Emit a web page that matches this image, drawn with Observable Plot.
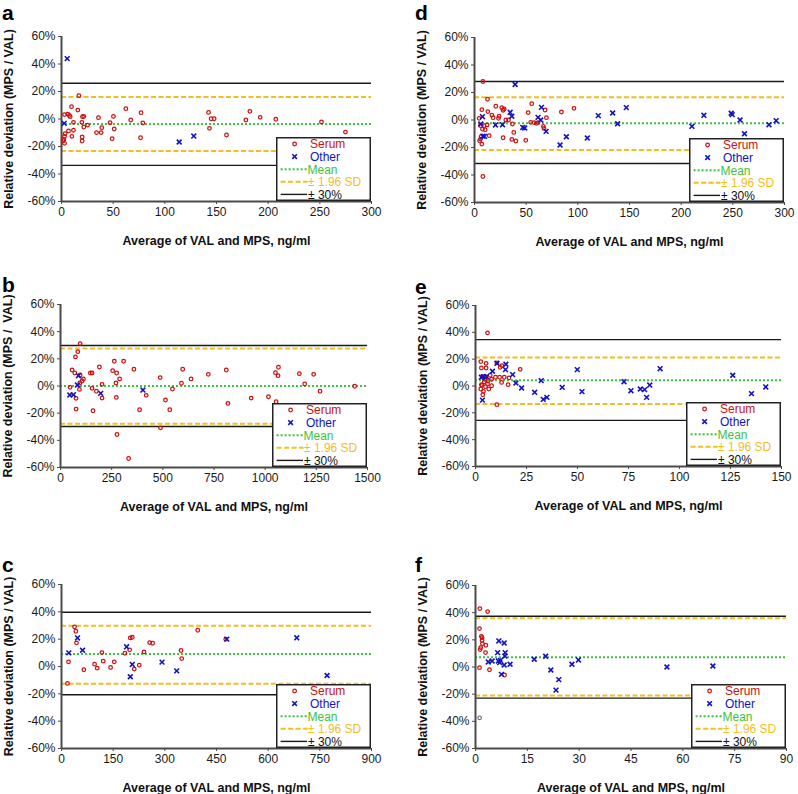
<!DOCTYPE html>
<html><head><meta charset="utf-8">
<script src="https://cdn.jsdelivr.net/npm/d3@7"></script>
<script src="https://cdn.jsdelivr.net/npm/@observablehq/plot@0.6"></script>
<style>
html,body{margin:0;padding:0;background:#fff;}
#fig{position:relative;width:798px;height:794px;overflow:hidden;background:#fff;font-family:'Liberation Sans',Arial,sans-serif;}
</style></head><body><div id="fig"></div>
<script>
// ---------- data ----------
const yTicks = [-60, -40, -20, 0, 20, 40, 60];
const xTicksA = [0, 50, 100, 150, 200, 250, 300];
const xTicksB = [0, 250, 500, 750, 1000, 1250, 1500];
const xTicksC = [0, 150, 300, 450, 600, 750, 900];
const xTicksD = [0, 50, 100, 150, 200, 250, 300];
const xTicksE = [0, 25, 50, 75, 100, 125, 150];
const xTicksF = [0, 15, 30, 45, 60, 75, 90];

// [average, relative deviation %]
const serumA = [[16.8,17.0],[9.7,9.0],[2.9,3.2],[6.1,3.6],[8.4,1.7],[7.6,2.6],[15.8,6.5],[21.6,1.9],[20.3,1.7],[11.6,-2.4],[19.7,-2.4],[25.2,-4.4],[21.6,-5.8],[6.8,-8.7],[11.6,-8.2],[3.5,-10.7],[2.9,-12.6],[2.3,-14.8],[1.5,-15.8],[2.9,-17.7],[10,-12.6],[20,-13.1],[20,-16],[35.8,1.0],[33.9,-9.9],[38.4,-9.9],[39,-6.3],[47,-2.7],[50.3,1.9],[51,-7.3],[49,-14.3],[62.3,7.5],[67,-0.7],[77,4.6],[78.7,-2.9],[76.5,-13.6],[142.3,4.8],[143.2,-6.8],[144.8,0.2],[147.7,0.2],[159.7,-11.6],[178.4,-0.7],[182.3,5.6],[192.3,1.2],[207.4,-0.2],[251.6,-2.2],[274.8,-9.5]];
const otherA = [[5.5,43.9],[2.6,-3.2],[113.9,-16.7],[128,-12.4]];
const linesA = {mean: -3.6, sd: [16.0, -23.3], lim: [26.0, -33.7]};

const serumB = [[95.8,31.2],[84.4,25.3],[73,21.4],[56.8,11.8],[69.8,9.6],[95.8,8.1],[112,5.2],[105.5,3.7],[94.2,2.2],[47,-1.0],[92.5,-2.5],[76.3,-9.1],[76.3,-17],[154.2,9.6],[146,9.6],[190,14],[154.2,-1.7],[175.3,-3.9],[203,1.2],[203,-8.9],[159,-18.2],[263,18.2],[274.4,9.6],[254.9,11.3],[289,5.2],[271,2.2],[272.7,-8.4],[276,-35.7],[308.4,18.2],[332.8,-53.4],[358.8,12.3],[386.4,-17.5],[418.8,-6.9],[487,6.2],[488.6,-30.8],[513,-10.3],[534,-17.5],[547,-2.2],[591,2.0],[597,12.3],[638,5.2],[722,8.6],[810,11.8],[818,-12.8],[931.8,-8.9],[1016,-7.9],[1053.6,-11.6],[1050.3,9.8],[1065,13.8],[1063,7.6],[1167,9.1],[1193,1.5],[1237,8.6],[1268,-3.9],[1437,-0.2]];
const otherB = [[87.7,7.6],[82.8,0.7],[45.5,-6.6],[63.3,-6.4],[196.4,-5.4],[402.6,-3.0]];
const linesB = {mean: 0, sd: [27.6, -27.8], lim: [29.8, -29.8]};

const serumC = [[37.8,29.0],[41.7,25.8],[43.6,17.3],[20.4,3.4],[17.4,-12.4],[64.9,-2.4],[96,1.7],[103.7,-1.2],[117.3,10.2],[121.2,3.9],[142.5,-0.7],[153.1,3.4],[184.2,9.7],[197.7,12.2],[199.7,20.9],[205.4,21.4],[211.3,-1.9],[225.8,1.0],[239.4,10.7],[255.9,17.5],[264.6,17.0],[347,11.7],[349,5.8],[395.5,26.5],[476.9,20.0]];
const otherC = [[21.3,10.0],[46.5,20.9],[61.1,11.9],[189,14.4],[199.7,-7.5],[205.5,1.5],[291.8,3.2],[334.4,-3.2],[479.8,20.0],[683,21],[771,-6.6]];
const linesC = {mean: 9.2, sd: [29.9, -12.6], lim: [39.7, -20.7]};

const serumD = [[8.1,28.0],[12.6,15.1],[7.1,7.5],[12.9,6.1],[16.8,3.6],[18.0,1.7],[20.6,10.0],[23.8,2.7],[26.4,9.0],[27.7,7.1],[28.7,8.0],[23.2,1.2],[30.3,0],[5.8,-4.1],[9.3,-4.1],[12.2,-3.6],[7.7,-6.6],[10.3,-7.1],[6.4,-12.2],[7.1,-17.5],[5.8,-13.9],[14.2,-11.4],[27.7,-12.9],[36.1,-14.1],[40,-15.3],[49.6,-14.8],[38,-9.0],[36.7,-2.9],[32.9,0],[55.4,11.9],[51.9,5.4],[54.4,-1.7],[57.7,-1.9],[59.9,-2.4],[61.5,-1.9],[66.7,-4.6],[68.3,7.3],[69.6,1.7],[84.1,5.8],[96.3,8.5],[67.3,-6.1],[8.1,-41.1],[4.5,1.2],[5.0,-15.0]];
const otherD = [[39.3,25.8],[7.7,2.4],[6.1,-2.9],[9.7,-11.9],[8.1,-11.7],[20.3,-3.6],[27.1,-3.4],[34.5,5.6],[36.1,2.7],[46.7,-5.4],[48.6,-5.8],[61.5,1.9],[64.1,0],[64.8,9.2],[69.3,-8.3],[82.8,-18.2],[88.9,-12.2],[109.2,-13.1],[119.8,3.2],[133.7,5.1],[138.5,-2.7],[146.9,9.0],[210.4,-4.6],[222,3.4],[248.4,4.9],[249.4,3.9],[257,0],[261.3,-10],[285,-3.4],[291.9,-0.5]];
const linesD = {mean: -2.4, sd: [16.5, -21.9], lim: [28.0, -31.6]};

const serumE = [[5.9,39.6],[2.6,18.2],[5.2,16.9],[2.9,13.4],[5.2,13.4],[10.5,17.2],[12.1,13.9],[12.9,15.2],[21.9,12.4],[9.8,6.5],[11.8,6.5],[14.1,6.5],[16.4,6.0],[12.8,2.7],[16,1.0],[7.2,8.0],[7.9,5],[6.2,4.0],[3.4,7.0],[5.1,7.0],[4.3,3.2],[5.9,1.5],[2.9,1.0],[4.9,-0.5],[2.6,-2.2],[3.9,-4],[3.6,-6.5],[6.5,-2.2],[7.9,0.2],[10.5,-13.9],[3.2,0.5],[4.5,5.0]];
const otherE = [[10.5,16.9],[14.9,16.2],[14.7,12.2],[8.3,11],[18.2,8.5],[2.9,6.5],[3.9,7.0],[5.4,7.0],[19.8,2.2],[22.6,-1.5],[32.2,4.0],[29,-4.7],[33.2,-10],[35,-8.5],[42.5,-1],[3.4,-10.5],[49.9,12.2],[52.2,-4.2],[72.8,3.2],[76.2,-3.5],[80.8,-2.2],[82.9,-2.7],[83.9,-8.5],[85.4,0.7],[90.5,12.9],[126.1,8.0],[135.3,-5.7],[142.3,-0.7]];
const linesE = {mean: 4.2, sd: [21.2, -13.4], lim: [34.6, -25.6]};

const serumF = [[1.25,43.0],[3.5,40.8],[1.16,28.3],[1.7,22.6],[1.9,21.6],[1.9,19.7],[2.0,17.2],[3.0,16.0],[1.5,14.3],[1.35,12.8],[2.9,10.6],[1.16,-0.5],[4.05,-2],[8.4,-5.9]];
const greyF = [[1.2,-37.4]];
const otherF = [[6.75,19.2],[8.3,17.7],[6.4,10.6],[8.6,10.6],[8.5,8.1],[3.7,3.7],[4.8,4.4],[6.6,4.4],[7.2,4.9],[7.0,3.2],[8.3,1.5],[10.0,2.0],[7.5,-5.4],[17,5.7],[20.3,7.9],[21.8,-2.2],[24.1,-9.3],[23.3,-17],[27.9,2.0],[29.8,5.2],[55.4,0],[68.7,0.7]];
const linesF = {mean: 7.1, sd: [35.9, -20.9], lim: [37.4, -22.9]};

const panelLetters = ["a", "b", "c", "d", "e", "f"];
const yLabels = ["Relative deviation (MPS / VAL)", "Relative deviation (MPS /\u00a0 VAL)", "Relative deviation (MPS / VAL)", "Relative deviation (MPS / VAL)", "Relative deviation (MPS / VAL)", "Relative deviation (MPS / VAL)"];
const xLabel = "Average of VAL and MPS, ng/ml";
const legendLabels = ["Serum", "Other", "Mean", "\u00b1 1.96 SD", "\u00b1 30%"];

// ---------- style ----------
const SERUM = "#cc1111", OTHER = "#1212c4", MEAN = "#3cc43c", SD = "#f2c01e", LIM = "#1a1a1a", AXIS = "#4a4a4a";
const FONT = "'Liberation Sans', Arial, Helvetica, sans-serif";

const layout = [
  {left: 61, top: 36, w: 310, h: 165, lx: 2, ly: 20},
  {left: 60, top: 304, w: 307, h: 163, lx: 2, ly: 292},
  {left: 61, top: 584, w: 310, h: 164, lx: 2, ly: 572},
  {left: 474, top: 37, w: 310, h: 165, lx: 415, ly: 20},
  {left: 475, top: 305, w: 306, h: 161, lx: 415, ly: 294},
  {left: 475, top: 585, w: 311, h: 163, lx: 415, ly: 572}
];
const panels = [
  {xTicks: xTicksA, serum: serumA, other: otherA, lines: linesA},
  {xTicks: xTicksB, serum: serumB, other: otherB, lines: linesB},
  {xTicks: xTicksC, serum: serumC, other: otherC, lines: linesC},
  {xTicks: xTicksD, serum: serumD, other: otherD, lines: linesD},
  {xTicks: xTicksE, serum: serumE, other: otherE, lines: linesE},
  {xTicks: xTicksF, serum: serumF, other: otherF, lines: linesF, grey: greyF}
];

const fig = document.getElementById("fig");

function makePanel(p, L, ylab) {
  const mL = 66, mT = 10, mR = 14, mB = 52;
  const xMax = p.xTicks[p.xTicks.length - 1];
  const marks = [
    Plot.ruleY(p.lines.lim, {stroke: LIM, strokeWidth: 1.4}),
    Plot.ruleY(p.lines.sd, {stroke: SD, strokeWidth: 2, strokeDasharray: "5,2.5"}),
    Plot.ruleY([p.lines.mean], {stroke: MEAN, strokeWidth: 2, strokeDasharray: "2,2"}),
    Plot.axisX({ticks: p.xTicks, tickFormat: d => String(d), tickSize: 3, tickPadding: 3, stroke: AXIS, fill: "#1a1a1a", label: null}),
    Plot.axisY({ticks: yTicks, tickFormat: d => d + "%", tickSize: 3, tickPadding: 3, stroke: AXIS, fill: "#1a1a1a", label: null}),
    Plot.ruleX([0], {stroke: AXIS, strokeWidth: 2}),
    Plot.ruleY([-60], {stroke: AXIS, strokeWidth: 2}),
    Plot.dot(p.serum, {x: d => d[0], y: d => d[1], r: 1.8, stroke: SERUM, strokeWidth: 1.25, fill: "none"})
  ];
  if (p.grey) marks.push(Plot.dot(p.grey, {x: d => d[0], y: d => d[1], r: 1.8, stroke: "#666", strokeWidth: 1.1, fill: "none"}));
  marks.push(
    Plot.dot(p.other, {x: d => d[0], y: d => d[1], symbol: "times", r: 2.3, stroke: OTHER, strokeWidth: 1.6}),
    Plot.text([ylab], {text: d => d, frameAnchor: "left", dx: -53, rotate: -90, textAnchor: "middle", lineAnchor: "middle", fontWeight: "bold", fontSize: 12.5, fill: "#111"}),
    Plot.text([xLabel], {text: d => d, frameAnchor: "bottom", dy: 39, textAnchor: "middle", lineAnchor: "middle", fontWeight: "bold", fontSize: 12.5, fill: "#111"})
  );
  const svg = Plot.plot({
    width: mL + L.w + mR, height: mT + L.h + mB,
    marginLeft: mL, marginTop: mT, marginRight: mR, marginBottom: mB,
    style: {fontFamily: FONT, fontSize: "12px", color: "#1a1a1a", background: "transparent", overflow: "visible", maxWidth: "none"},
    x: {domain: [0, xMax]},
    y: {domain: [-60, 60]},
    marks
  });
  svg.style.position = "absolute";
  svg.style.left = (L.left - mL) + "px";
  svg.style.top = (L.top - mT) + "px";
  fig.appendChild(svg);
}

panels.forEach((p, i) => makePanel(p, layout[i], yLabels[i]));

// overlay: panel letters and legends
const ov = d3.select(fig).append("svg")
  .attr("width", 798).attr("height", 794)
  .style("position", "absolute").style("left", "0px").style("top", "0px")
  .style("font-family", FONT);

const LW = 95, LH = 64;
layout.forEach((L, i) => {
  ov.append("text").attr("x", L.lx).attr("y", L.ly)
    .attr("font-size", 21).attr("font-weight", "bold").attr("fill", "#000")
    .text(panelLetters[i]);
  const g = ov.append("g").attr("transform", `translate(${L.left + L.w - LW},${L.top + L.h - LH})`);
  g.append("rect").attr("x", 0.75).attr("y", 0.75).attr("width", LW - 1.5).attr("height", LH - 1.5)
    .attr("fill", "#fff").attr("stroke", "#222").attr("stroke-width", 1.5);
  const rows = [7, 19.6, 32.2, 44.8, 57.4];
  const fs = 12;
  // Serum
  g.append("circle").attr("cx", 18.6).attr("cy", rows[0]).attr("r", 1.8)
    .attr("fill", "none").attr("stroke", SERUM).attr("stroke-width", 1.25);
  // Other
  const s = 2.3;
  g.append("path").attr("d", `M${18.6 - s},${rows[1] - s}L${18.6 + s},${rows[1] + s}M${18.6 - s},${rows[1] + s}L${18.6 + s},${rows[1] - s}`)
    .attr("stroke", OTHER).attr("stroke-width", 1.6);
  g.append("line").attr("x1", 4.6).attr("x2", 31).attr("y1", rows[2]).attr("y2", rows[2])
    .attr("stroke", MEAN).attr("stroke-width", 2).attr("stroke-dasharray", "2,2");
  g.append("line").attr("x1", 4.6).attr("x2", 31.5).attr("y1", rows[3]).attr("y2", rows[3])
    .attr("stroke", SD).attr("stroke-width", 2).attr("stroke-dasharray", "5,2.5");
  g.append("line").attr("x1", 4.6).attr("x2", 31).attr("y1", rows[4]).attr("y2", rows[4])
    .attr("stroke", LIM).attr("stroke-width", 1.4);
  const tx = [34, 34, 31.5, 32, 32];
  const tc = [SERUM, OTHER, MEAN, SD, "#111"];
  legendLabels.forEach((t, k) => {
    g.append("text").attr("x", tx[k]).attr("y", rows[k]).attr("dy", "0.36em")
      .attr("font-size", fs).attr("fill", tc[k]).text(t);
  });
});
</script></body></html>
